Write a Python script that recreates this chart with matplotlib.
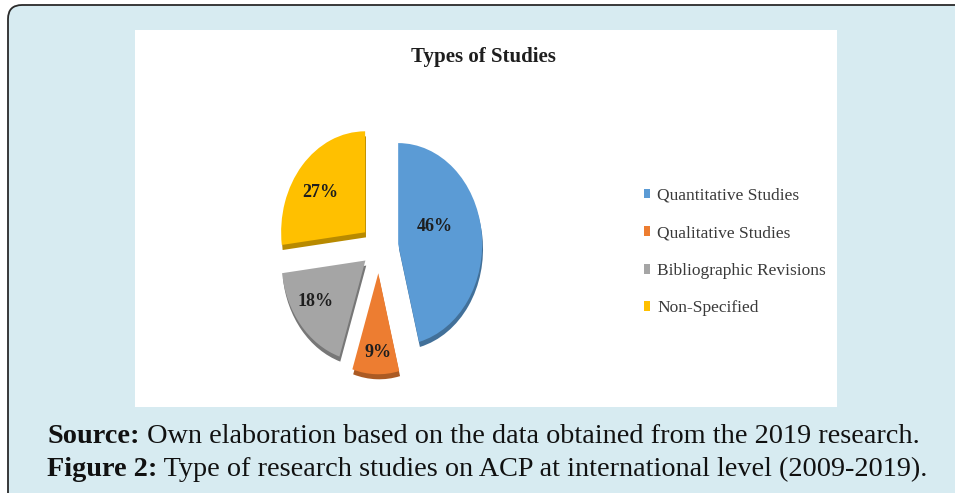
import matplotlib
matplotlib.use('Agg')
import matplotlib.pyplot as plt
from matplotlib.patches import FancyBboxPatch, Rectangle
from matplotlib.transforms import IdentityTransform
import matplotlib.colors as mcolors
import numpy as np

# ---------------- data ----------------
categories = ['Quantitative Studies', 'Qualitative Studies',
              'Bibliographic Revisions', 'Non-Specified']
shares = [46, 9, 18, 27]
title = 'Types of Studies'
caption_bold = ['Source:', 'Figure 2:']
caption_rest = ['Own elaboration based on the data obtained from the 2019 research.',
                'Type of research studies on ACP at international level (2009-2019).']

# ---------------- style ----------------
colors = ['#5b9bd5', '#ed7d31', '#a5a5a5', '#ffc000']
explode = [0.23, 0.26, 0.21, 0.22]
label_r = [0.47, 0.78, 0.72, 0.67]
label_dtheta = [14, 2, -5, 5]
serif = ['Liberation Serif', 'DejaVu Serif']

W, H = 955, 493
fig = plt.figure(figsize=(W / 100, H / 100), dpi=100)
fig.patch.set_facecolor('white')
ident = IdentityTransform()

# outer rounded panel (pixel coords, origin bottom-left)
panel = FancyBboxPatch((8, -60), 1200, (H - 5) + 60,
                       boxstyle='round,pad=0,rounding_size=14',
                       transform=ident, facecolor='#d7ebf1',
                       edgecolor='#2a2a2a', linewidth=1.3, zorder=-3)
fig.patches.append(panel)
# white chart area
fig.patches.append(Rectangle((135, H - 407), 702, 377, transform=ident,
                             facecolor='white', edgecolor='none', zorder=-2))

# pie axes: centre (379,247) px, radii 84 x 101 px
cx, cy, rx, ry = 379, 247, 84, 101
ax = fig.add_axes([(cx - 1.5 * rx) / W, (H - cy - 1.5 * ry) / H,
                   3 * rx / W, 3 * ry / H])
ax.set_zorder(1)
dark = [tuple(np.array(mcolors.to_rgb(c)) * 0.72) for c in colors]
ax.pie(shares, colors=dark, explode=explode, startangle=90, counterclock=False,
       center=(0.01, -0.05), wedgeprops=dict(linewidth=0))
wedges, texts, autotexts = ax.pie(
    shares, colors=colors, explode=explode, startangle=90, counterclock=False,
    autopct='%.0f%%', wedgeprops=dict(linewidth=0),
    textprops=dict(family=serif, fontweight='bold', fontsize=13, color='#1e1e1e'))
for w, t, r, dt in zip(wedges, autotexts, label_r, label_dtheta):
    th = np.deg2rad((w.theta1 + w.theta2) / 2 + dt)
    t.set_position((w.center[0] + r * np.cos(th), w.center[1] + r * np.sin(th)))
    t.set_ha('center'); t.set_va('center')
ax.set_aspect('auto')
ax.set_xlim(-1.5, 1.5)
ax.set_ylim(-1.5, 1.5)
ax.axis('off')

# title
fig.text(483 / W, 1 - 57 / H, title, ha='center', va='center',
         family=serif, fontweight='bold', fontsize=15, color='#1e1e1e')

# legend
leg = ax.legend(wedges, categories, loc='center left',
                bbox_to_anchor=(644 / W, 1 - 252 / H), bbox_transform=fig.transFigure,
                frameon=False, borderpad=0, borderaxespad=0,
                handlelength=0.35, handleheight=0.5, handletextpad=0.4,
                labelspacing=1.24, prop=dict(family=serif, size=12.5))
for t in leg.get_texts():
    t.set_color('#3a3a3a')

# captions, sized to the reference width
renderer = fig.canvas.get_renderer()
def caption(bold, rest, x_px, base_px, target_w, size=19.0):
    for it in range(3):
        t1 = fig.text(x_px / W, 1 - base_px / H, bold, family=serif, fontweight='bold',
                      fontsize=size, va='baseline', ha='left', color='#111111')
        e1 = t1.get_window_extent(renderer)
        t2 = fig.text(e1.x1 / W, 1 - base_px / H, ' ' + rest, family=serif,
                      fontsize=size, va='baseline', ha='left', color='#111111')
        e2 = t2.get_window_extent(renderer)
        total = e2.x1 - e1.x0
        if it < 2:
            t1.remove(); t2.remove()
            size *= target_w / total

caption(caption_bold[0], caption_rest[0], 47, 443, 873)
caption(caption_bold[1], caption_rest[1], 47, 476, 878)

fig.savefig('out.png', dpi=100, facecolor=fig.get_facecolor())
